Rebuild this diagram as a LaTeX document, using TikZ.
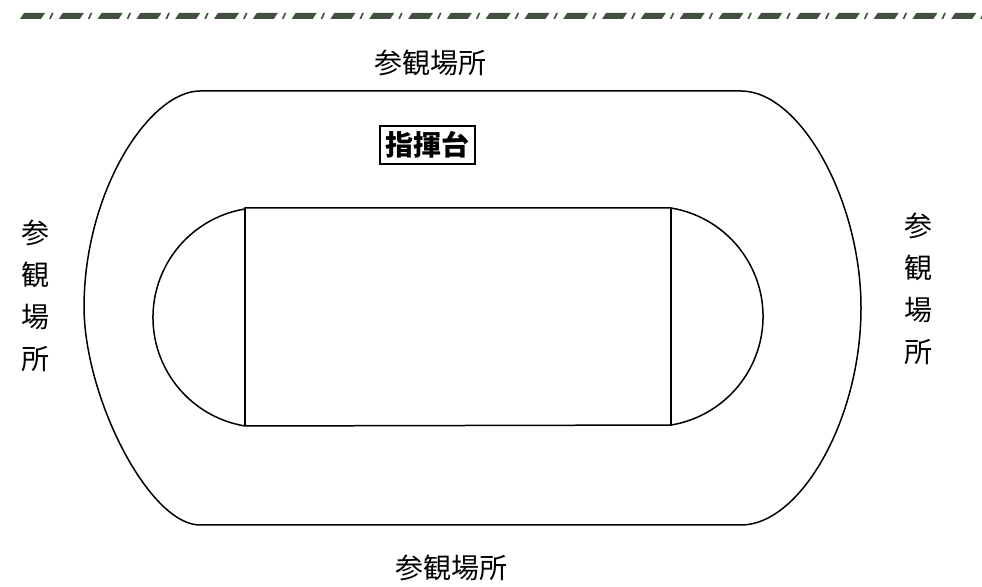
\documentclass[tikz,border=0pt]{standalone}
\usepackage{fontspec}
\setmainfont{Noto Sans CJK JP}
\definecolor{bandgreen}{RGB}{66,80,64}

\begin{document}
\begin{tikzpicture}[x=1pt, y=1pt, line width=1.5pt,
         place/.style={font=\fontsize{28}{42}\selectfont, inner sep=0pt, align=center},
         stand/.style={draw, line width=1.4pt, font=\fontsize{28}{34}\selectfont\bfseries, inner sep=5.5pt}]
   \useasboundingbox (0,0) rectangle (982,586);
   \foreach \i in {0,...,24}
      \fill[bandgreen] ({20+38.8*\i},567) -- ++(21,0) -- ++(4,6) -- ++(-21,0) -- cycle
                       ({49+38.8*\i},567) -- ++(1.8,0) -- ++(2.7,6) -- ++(-1.8,0) -- cycle;

   \coordinate (tl) at (245,378);
   \coordinate (tr) at (671,378);
   \coordinate (br) at (671,160);
   \coordinate (bl) at (245,160);

   \draw (200,495) -- (741,495) .. controls (800,495) and (861,386) .. (861,278)
         .. controls (861,166) and (800,61) .. (741,61) -- (200,61)
         .. controls (150,61) and (85,186) .. (84,278)
         .. controls (84,396) and (150,495) .. (200,495) -- cycle;
   \draw (tl) -- (tr) arc[start angle=80.6, end angle=-80.6, radius=110]
         -- (bl) arc[start angle=260.6, end angle=99.4, radius=110] -- cycle;
   \draw (tl) -- (bl) (tr) -- (br);

   \node[place] (north) at (430,523) {参観場所};
   \node[place] (south) at (451,18) {参観場所};
   \node[place] (west) at (35,290.5) {参\\観\\場\\所};
   \node[place] (east) at (918,297.5) {参\\観\\場\\所};
   \node[stand] (podium) at (427.5,441) {指揮台};
\end{tikzpicture}
\end{document}
